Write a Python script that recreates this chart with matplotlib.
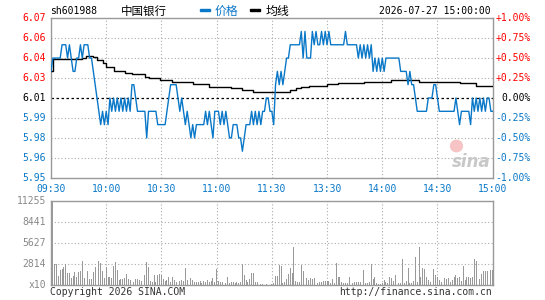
import matplotlib
matplotlib.use('Agg')
import matplotlib.pyplot as plt
import matplotlib.transforms as mtransforms
from matplotlib.patches import Rectangle, Ellipse

# ---------------- data ----------------
stock_code = "sh601988"
stock_name = "中国银行"
timestamp = "2026-07-27 15:00:00"
prev_close = 6.01

price = [
    6.03, 6.04, 6.04, 6.04, 6.04, 6.04, 6.05, 6.05, 6.05, 6.04,
    6.05, 6.04, 6.03, 6.03, 6.04, 6.04, 6.05, 6.04, 6.05, 6.05,
    6.05, 6.04, 6.04, 6.03, 6.02, 6.01, 6.00, 5.99, 6.00, 5.99,
    6.00, 5.99, 6.01, 6.00, 6.01, 6.00, 6.01, 6.00, 6.01, 6.00,
    6.01, 6.00, 6.01, 6.00, 6.02, 6.02, 6.01, 6.00, 6.00, 6.00,
    6.00, 6.00, 5.98, 6.00, 6.00, 6.00, 6.00, 6.00, 5.99, 5.99,
    5.99, 5.99, 5.99, 6.00, 6.01, 6.02, 6.02, 6.02, 6.02, 6.01,
    6.00, 6.01, 6.00, 5.99, 6.00, 5.99, 5.98, 5.99, 5.98, 5.99,
    5.99, 5.99, 5.99, 5.99, 6.00, 5.99, 6.00, 5.99, 5.98, 6.00,
    6.00, 6.00, 5.99, 6.00, 5.99, 6.00, 5.99, 5.98, 5.98, 5.99,
    5.99, 5.99, 5.98, 5.98, 5.97, 5.98, 5.99, 5.99, 5.99, 6.00,
    5.99, 6.00, 5.99, 6.00, 5.99, 6.00, 6.00, 6.01, 6.01, 6.00,
    6.00, 5.99, 6.02, 6.03, 6.02, 6.03, 6.02, 6.03, 6.04, 6.04,
    6.05, 6.05, 6.05, 6.05, 6.05, 6.05, 6.06, 6.04, 6.06, 6.04,
    6.04, 6.04, 6.06, 6.05, 6.06, 6.05, 6.05, 6.06, 6.05, 6.06,
    6.05, 6.06, 6.05, 6.05, 6.05, 6.05, 6.05, 6.05, 6.05, 6.05,
    6.06, 6.05, 6.05, 6.05, 6.05, 6.05, 6.05, 6.04, 6.05, 6.04,
    6.05, 6.04, 6.05, 6.04, 6.05, 6.03, 6.04, 6.03, 6.04, 6.03,
    6.04, 6.03, 6.04, 6.04, 6.04, 6.04, 6.04, 6.04, 6.04, 6.04,
    6.03, 6.03, 6.03, 6.03, 6.02, 6.03, 6.02, 6.02, 6.01, 6.00,
    6.00, 6.00, 6.00, 6.00, 6.00, 6.01, 6.01, 6.01, 6.02, 6.02,
    6.01, 6.00, 6.00, 6.00, 6.00, 6.00, 6.00, 6.00, 6.00, 6.00,
    6.01, 6.00, 5.99, 6.00, 6.00, 6.00, 6.00, 6.00, 5.99, 6.01,
    6.00, 6.01, 6.00, 6.01, 6.00, 6.01, 6.00, 6.01, 6.01, 6.00, 6.00,
]

volume = [
    4400, 11255, 2800, 2800, 1250, 2050, 2150, 2400, 2800, 1700,
    1700, 930, 1250, 1820, 1160, 1820, 1960, 3250, 930, 1020,
    1960, 850, 890, 1780, 2400, 1160, 3250, 3030, 1870, 1020,
    2400, 1070, 1160, 930, 2580, 3120, 2050, 710, 800, 850,
    930, 1510, 800, 710, 2310, 490, 800, 890, 710, 580,
    800, 1420, 3120, 2400, 580, 450, 1380, 490, 1420, 1470,
    1380, 890, 580, 710, 1070, 450, 1160, 670, 450, 890,
    580, 710, 530, 2270, 710, 490, 980, 710, 450, 490,
    400, 530, 360, 620, 490, 710, 400, 580, 980, 490,
    2140, 580, 490, 400, 450, 360, 1160, 360, 450, 450,
    360, 450, 310, 450, 2800, 1380, 760, 450, 800, 1600,
    1600, 490, 450, 360, 180, 180, 90, 180, 90, 1160,
    180, 270, 1250, 1250, 2710, 2580, 270, 450, 890, 1510,
    2310, 1690, 5120, 580, 490, 490, 2710, 1960, 1160, 930,
    710, 1020, 890, 1020, 1070, 360, 450, 490, 620, 620,
    620, 620, 360, 890, 270, 3030, 1160, 1160, 450, 360,
    360, 360, 1160, 450, 360, 490, 490, 450, 450, 490,
    2090, 360, 270, 490, 2850, 890, 1160, 360, 180, 180,
    270, 710, 490, 360, 1160, 930, 620, 1420, 490, 360,
    270, 3470, 270, 620, 2270, 270, 360, 620, 3830, 490,
    5120, 1160, 2360, 2230, 1070, 710, 490, 580, 2230, 1340,
    1070, 710, 450, 620, 930, 800, 930, 490, 710, 1160,
    1380, 930, 1070, 620, 2580, 710, 1070, 1160, 930, 1070,
    3560, 3300, 1070, 890, 1470, 1960, 1960, 1960, 1200, 2050, 2050,
]

# average price line (step breakpoints: minute index, value)
avg_minutes = [0, 1, 11, 17, 19, 23, 25, 28, 30, 34, 40, 44, 51, 53, 59, 66,
               77, 86, 98, 104, 110, 130, 133, 136, 140, 150, 156, 170, 185,
               200, 222, 231, 240]
avg_values = [6.030, 6.039, 6.0395, 6.040, 6.0418, 6.0405, 6.0385, 6.0365,
              6.033, 6.030, 6.029, 6.0278, 6.026, 6.0248, 6.0238, 6.0218,
              6.0205, 6.0185, 6.0175, 6.016, 6.0148, 6.016, 6.0175, 6.018,
              6.019, 6.0205, 6.0213, 6.0218, 6.0235, 6.0218, 6.021, 6.019,
              6.019]

price_tick_labels = ['6.07', '6.06', '6.04', '6.03', '6.01', '5.99', '5.98', '5.96', '5.95']
pct_tick_labels = ['+1.00%', '+0.75%', '+0.50%', '+0.25%', '0.00%',
                   '-0.25%', '-0.50%', '-0.75%', '-1.00%']
vol_max = 11255
vol_tick_labels = ['11255', '8441', '5627', '2814', 'x10']
time_tick_pos = [0, 30, 60, 90, 120, 150, 180, 210, 240]
time_tick_labels = ['09:30', '10:00', '10:30', '11:00', '11:30',
                    '13:30', '14:00', '14:30', '15:00']

assert len(price) == 241 and len(volume) == 241
minutes = list(range(len(price)))

# ---------------- style ----------------
BLUE = '#0a78c8'
RED = '#ff0000'
GRID = '#aaaaaa'
FRAME = '#999999'
VOLC = '#999999'
MONO = 'DejaVu Sans Mono'
CJK = ['Noto Sans CJK SC', 'DejaVu Sans']
FS = 7

W, H = 545, 300
fig = plt.figure(figsize=(W / 100, H / 100), dpi=100)
fig.patch.set_facecolor('white')


def fx(px):
    return px / W


def fy(py):
    return 1 - py / H


L, R = 51, 492.7
PT, PB = 18, 178
VT, VB = 201, 285.3
ax = fig.add_axes([fx(L), fy(PB), fx(R - L), (PB - PT) / H])
axv = fig.add_axes([fx(L), fy(VB), fx(R - L), (VB - VT) / H])

lo, hi = prev_close * 0.99, prev_close * 1.01

for a in (ax, axv):
    a.set_xticks([])
    a.set_yticks([])
    for s in a.spines.values():
        s.set_color(FRAME)
        s.set_linewidth(1.0)
    a.set_xlim(0, 240)

ax.set_ylim(lo, hi)
axv.set_ylim(0, vol_max)

# grids
for k in range(1, 8):
    if k != 4:
        ax.axhline(lo + k * (hi - lo) / 8, color=GRID, ls=(0, (1, 2)), lw=0.8, zorder=1)
for xpos in time_tick_pos[1:-1]:
    ax.axvline(xpos, color=GRID, ls=(0, (1, 2)), lw=0.8, zorder=1)
    axv.axvline(xpos, color=GRID, ls=(0, (1, 2)), lw=0.8, zorder=1)
for k in range(1, 4):
    axv.axhline(vol_max * k / 4, color=GRID, ls=(0, (1, 2)), lw=0.8, zorder=1)

ax.axhline(prev_close, color='black', ls=(0, (2, 2)), lw=0.9, zorder=2)

# watermark
ax.add_patch(Ellipse((0.918, 0.20), 0.03, 0.08, transform=ax.transAxes,
                     color='#f6c4c4', zorder=1.5, lw=0))
ax.text(0.952, 0.10, 'sina', transform=ax.transAxes, fontsize=12,
        fontstyle='italic', fontweight='bold', color='#c8c8c8',
        ha='center', va='center', zorder=1.6, family='DejaVu Sans')

# series
ax.plot(avg_minutes, avg_values, color='black', lw=1.0, drawstyle='steps-post', zorder=3)
ax.plot(minutes, price, color=BLUE, lw=1.0, zorder=4)
axv.bar(minutes, volume, width=0.5, color=VOLC, zorder=2, linewidth=0)

# left / right price labels
tr_l = mtransforms.blended_transform_factory(fig.transFigure, ax.transData)
for k, (lab, pl) in enumerate(zip(price_tick_labels, pct_tick_labels)):
    yv = hi - k * (hi - lo) / 8
    col = RED if k < 4 else ('black' if k == 4 else BLUE)
    fig.text(fx(46.2), yv, lab, transform=tr_l, ha='right', va='center',
             fontsize=FS, color=col, family=MONO)
    fig.text(fx(531), yv, pl, transform=tr_l, ha='right', va='center',
             fontsize=FS, color=col, family=MONO)

# volume labels
tr_v = mtransforms.blended_transform_factory(fig.transFigure, axv.transData)
for k, lab in enumerate(vol_tick_labels):
    yv = vol_max - k * vol_max / 4
    fig.text(fx(46.2), yv, lab, transform=tr_v, ha='right', va='center',
             fontsize=FS, color='#888888', family=MONO)

# time labels
tr_t = mtransforms.blended_transform_factory(ax.transData, fig.transFigure)
for xpos, lab in zip(time_tick_pos, time_tick_labels):
    fig.text(xpos, fy(188.5), lab, transform=tr_t, ha='center', va='center',
             fontsize=FS, color=BLUE, family=MONO)

# header
fig.text(fx(50.4), fy(11.5), stock_code, ha='left', va='center', fontsize=FS,
         color='black', family=MONO)
fig.text(fx(121), fy(11.5), stock_name, ha='left', va='center', fontsize=8.3,
         color='black', family=CJK)
fig.add_artist(Rectangle((fx(200), fy(11.2)), fx(9.5), 2.6 / H, color=BLUE,
                         transform=fig.transFigure))
fig.text(fx(215), fy(11.5), '价格', ha='left', va='center', fontsize=8.6,
         color=BLUE, family=CJK)
fig.add_artist(Rectangle((fx(250), fy(11.2)), fx(9.5), 2.6 / H, color='black',
                         transform=fig.transFigure))
fig.text(fx(266), fy(11.5), '均线', ha='left', va='center', fontsize=8.6,
         color='black', family=CJK)
fig.text(fx(490.6), fy(11.5), timestamp, ha='right', va='center', fontsize=FS,
         color='black', family=MONO)

# footer
fig.text(fx(50), fy(292), 'Copyright 2026 SINA.COM', ha='left', va='center',
         fontsize=FS, color='#333333', family=MONO)
fig.text(fx(492), fy(292), 'http://finance.sina.com.cn', ha='right', va='center',
         fontsize=FS, color='#333333', family=MONO)

fig.savefig('out.png', dpi=100, facecolor='white')
